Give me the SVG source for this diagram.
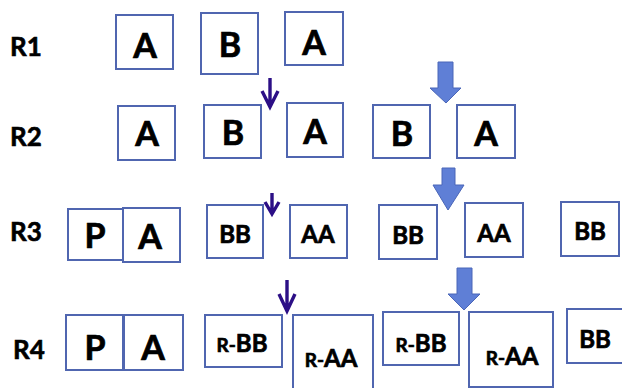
<svg xmlns="http://www.w3.org/2000/svg" width="622" height="388" viewBox="0 0 622 388">
<style>
.box{fill:#fff;stroke:#5066b0;stroke-width:2}
.t{font-family:Lato,"Liberation Sans",sans-serif;font-weight:700;fill:#000;stroke:#000;stroke-width:0.7;text-anchor:middle}
.big{font-size:34px}
.mid{font-size:24px}
.sm{font-size:19px}
.lbl{font-family:Lato,"Liberation Sans",sans-serif;font-weight:700;font-size:26px;fill:#000;stroke:#000;stroke-width:0.6}
.blk{fill:#5f7fd6;stroke:#4a66b8;stroke-width:1}
.thin{fill:none;stroke:#2c0f86;stroke-width:3.4;stroke-linecap:butt}
</style>
<rect width="622" height="388" fill="#fff"/>
<g id="labels">
<text class="lbl" x="10" y="56">R1</text>
<text class="lbl" x="10" y="146">R2</text>
<text class="lbl" x="10" y="241">R3</text>
<text class="lbl" x="13" y="359">R4</text>
</g>
<g id="r1a1"><rect class="box" x="116" y="15" width="57" height="54"/><text class="t big" x="145" y="58">A</text></g>
<g id="r1b"><rect class="box" x="201" y="13" width="57" height="61"/><text class="t big" x="230" y="57">B</text></g>
<g id="r1a2"><rect class="box" x="285" y="12" width="58" height="53"/><text class="t big" x="314" y="55">A</text></g>

<g id="r2a1"><rect class="box" x="118" y="106" width="57" height="54"/><text class="t big" x="147" y="146">A</text></g>
<g id="r2b1"><rect class="box" x="204" y="105" width="57" height="53"/><text class="t big" x="233" y="145">B</text></g>
<g id="r2a2"><rect class="box" x="287" y="103" width="56" height="54"/><text class="t big" x="315" y="144">A</text></g>
<g id="r2b2"><rect class="box" x="373" y="105" width="57" height="53"/><text class="t big" x="402" y="146">B</text></g>
<g id="r2a3"><rect class="box" x="457" y="105" width="58" height="53"/><text class="t big" x="486" y="146">A</text></g>

<g id="r3p"><rect class="box" x="68" y="209" width="55" height="51"/><text class="t big" x="95" y="248">P</text></g>
<g id="r3a"><rect class="box" x="123" y="208" width="57" height="54"/><text class="t big" x="150" y="249">A</text></g>
<g id="r3bb1"><rect class="box" x="207" y="205" width="56" height="53"/><text class="t mid" x="235" y="243">BB</text></g>
<g id="r3aa1"><rect class="box" x="290" y="205" width="57" height="53"/><text class="t mid" x="318" y="243">AA</text></g>
<g id="r3bb2"><rect class="box" x="379" y="205" width="58" height="54"/><text class="t mid" x="408" y="244">BB</text></g>
<g id="r3aa2"><rect class="box" x="465" y="203" width="58" height="54"/><text class="t mid" x="494" y="242">AA</text></g>
<g id="r3bb3"><rect class="box" x="561" y="202" width="58" height="54"/><text class="t mid" x="590" y="240">BB</text></g>

<g id="r4p"><rect class="box" x="66" y="315" width="57" height="55"/><text class="t big" x="95" y="360">P</text></g>
<g id="r4a"><rect class="box" x="124" y="315" width="59" height="55"/><text class="t big" x="153" y="360">A</text></g>
<g id="r4rbb1"><rect class="box" x="205" y="315" width="77" height="52"/><text class="t mid" x="242" y="352"><tspan class="sm">R-</tspan>BB</text></g>
<g id="r4raa1"><rect class="box" x="293" y="315" width="80" height="80"/><text class="t mid" x="331" y="367"><tspan class="sm">R-</tspan>AA</text></g>
<g id="r4rbb2"><rect class="box" x="383" y="312" width="76" height="53"/><text class="t mid" x="421" y="352"><tspan class="sm">R-</tspan>BB</text></g>
<g id="r4raa2"><rect class="box" x="469" y="312" width="84" height="75"/><text class="t mid" x="512" y="365"><tspan class="sm">R-</tspan>AA</text></g>
<g id="r4bb"><rect class="box" x="567" y="309" width="64" height="54"/><text class="t mid" x="595" y="348">BB</text></g>

<g id="connectors">
<path class="thin" d="M270 78V107M262 91L270 107L278 91"/>
<path class="thin" d="M272 193V214M265 202L272 214L279 202"/>
<path class="thin" d="M287 280V311M279 294L287 311L295 294"/>
<path class="blk" d="M438 62H453V88H461L446 103L430 88H438Z"/>
<path class="blk" d="M442 168H455V185H464L448 210L433 185H442Z"/>
<path class="blk" d="M457 268H472V294H480L464 310L448 294H457Z"/>
</g>
</svg>
